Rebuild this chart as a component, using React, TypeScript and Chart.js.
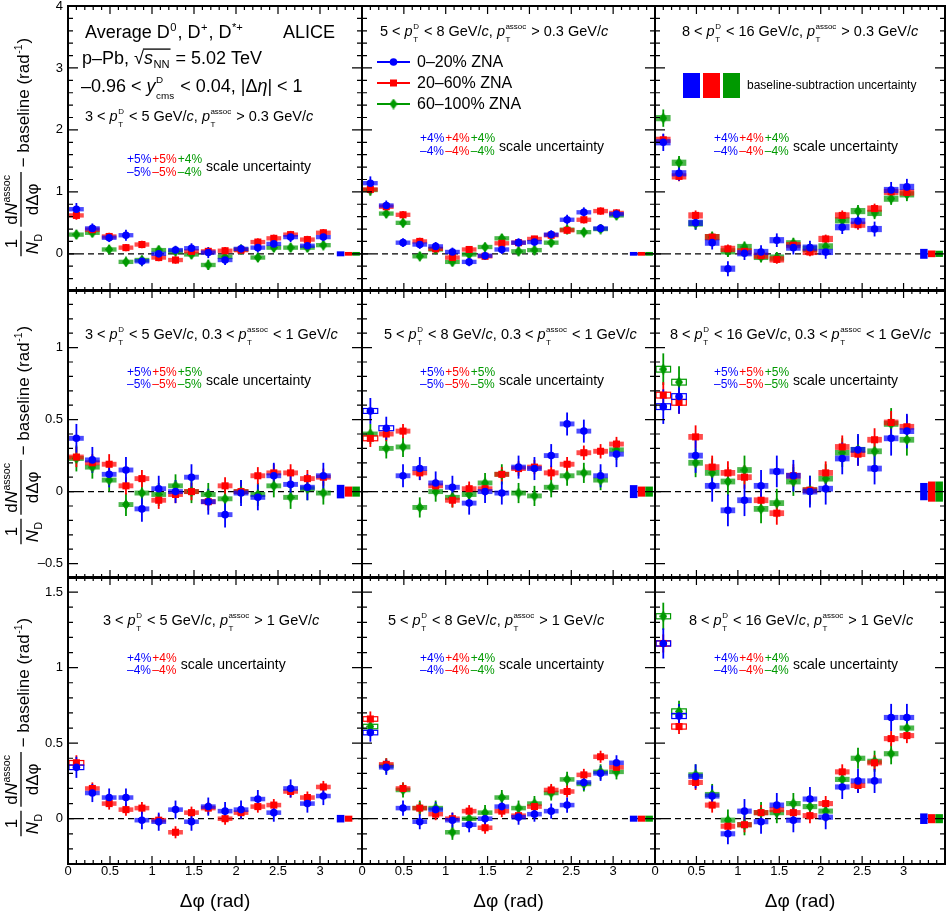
import { useEffect, useRef } from 'react'
import { Chart, registerables } from 'chart.js'

Chart.register(...registerables)

const FONT = '"Liberation Sans", Arial, Helvetica, sans-serif'
const BLUE = '#0000ff'
const RED = '#ff0000'
const GREEN = '#009900'
const colors = [BLUE, RED, GREEN]
const fills = ['rgba(0, 0, 255, 0.7)', 'rgba(255, 0, 0, 0.7)', 'rgba(0, 153, 0, 0.7)']

// Δφ bin centres (rad)
const dphi = [0.1, 0.29, 0.49, 0.69, 0.88, 1.08, 1.28, 1.47, 1.67, 1.87, 2.06, 2.26, 2.45, 2.65, 2.85, 3.04]
// position of the baseline-subtraction boxes (blue, red, green)
const baselineX = [3.245, 3.34, 3.43]
const xTicks = [0, 0.5, 1, 1.5, 2, 2.5, 3]
const yTicksRow1 = [0, 1, 2, 3, 4]
const yTicksRow2 = [-0.5, 0, 0.5, 1]
const yTicksRow3 = [0, 0.5, 1, 1.5]

const centralities = ['0–20% ZNA', '20–60% ZNA', '60–100% ZNA']
const ptD = [[3, 5], [5, 8], [8, 16]]

// ---- p_T^assoc > 0.3 GeV/c ----
const r1c1Blue = [0.72, 0.41, 0.26, 0.3, -0.12, 0.0, 0.06, 0.09, 0.02, -0.1, 0.08, 0.1, 0.16, 0.27, 0.13, 0.27]
const r1c1Red = [0.62, 0.39, 0.28, 0.1, 0.15, -0.06, -0.1, 0.04, 0.04, 0.05, 0.06, 0.19, 0.25, 0.31, 0.23, 0.34]
const r1c1Green = [0.31, 0.34, 0.07, -0.13, -0.1, 0.06, 0.04, -0.01, -0.18, -0.05, 0.07, -0.06, 0.1, 0.1, 0.1, 0.14]
const r1c1BlueErr = [0.1, 0.08, 0.07, 0.09, 0.08, 0.08, 0.07, 0.08, 0.09, 0.08, 0.07, 0.08, 0.08, 0.08, 0.08, 0.08]
const r1c1RedErr = [0.07, 0.06, 0.06, 0.06, 0.06, 0.06, 0.06, 0.05, 0.06, 0.06, 0.06, 0.06, 0.06, 0.06, 0.06, 0.06]
const r1c1GreenErr = [0.07, 0.07, 0.07, 0.07, 0.07, 0.07, 0.07, 0.07, 0.08, 0.07, 0.07, 0.07, 0.07, 0.07, 0.07, 0.07]

const r1c2Blue = [1.14, 0.78, 0.18, 0.15, 0.12, 0.03, -0.13, -0.03, 0.07, 0.18, 0.19, 0.31, 0.55, 0.67, 0.41, 0.64]
const r1c2Red = [1.04, 0.76, 0.63, 0.2, 0.08, -0.06, 0.07, -0.04, 0.17, 0.18, 0.24, 0.3, 0.38, 0.55, 0.69, 0.66]
const r1c2Green = [1.03, 0.65, 0.5, -0.04, 0.07, -0.13, -0.01, 0.11, 0.25, 0.04, 0.06, 0.18, 0.39, 0.35, 0.4, 0.62]
const r1c2BlueErr = [0.11, 0.08, 0.07, 0.07, 0.07, 0.07, 0.07, 0.07, 0.07, 0.07, 0.07, 0.07, 0.08, 0.08, 0.07, 0.07]
const r1c2RedErr = [0.08, 0.06, 0.06, 0.06, 0.05, 0.05, 0.05, 0.05, 0.05, 0.05, 0.05, 0.05, 0.06, 0.06, 0.06, 0.06]
const r1c2GreenErr = [0.09, 0.07, 0.07, 0.07, 0.07, 0.07, 0.07, 0.07, 0.07, 0.07, 0.07, 0.07, 0.07, 0.07, 0.07, 0.07]

const r1c3Blue = [1.8, 1.3, 0.5, 0.18, -0.24, 0.01, 0.03, 0.22, 0.1, 0.1, 0.03, 0.43, 0.53, 0.4, 1.03, 1.08]
const r1c3Red = [1.84, 1.25, 0.62, 0.27, 0.08, 0.04, -0.03, -0.09, 0.14, 0.03, 0.24, 0.62, 0.47, 0.73, 1.0, 0.99]
const r1c3Green = [2.19, 1.47, 0.49, 0.27, 0.04, 0.11, -0.05, -0.06, 0.17, 0.08, 0.12, 0.54, 0.69, 0.66, 0.89, 0.96]
const r1c3BlueErr = [0.14, 0.12, 0.11, 0.11, 0.12, 0.11, 0.11, 0.11, 0.11, 0.11, 0.11, 0.11, 0.12, 0.12, 0.13, 0.13]
const r1c3RedErr = [0.09, 0.08, 0.08, 0.07, 0.07, 0.07, 0.07, 0.07, 0.07, 0.07, 0.07, 0.08, 0.08, 0.08, 0.08, 0.09]
const r1c3GreenErr = [0.14, 0.11, 0.1, 0.09, 0.09, 0.09, 0.09, 0.09, 0.09, 0.09, 0.09, 0.1, 0.1, 0.1, 0.1, 0.11]

// ---- 0.3 < p_T^assoc < 1 GeV/c ----
const r2c1Blue = [0.37, 0.22, 0.12, 0.15, -0.12, 0.02, 0.0, 0.1, -0.07, -0.16, -0.01, -0.04, 0.11, 0.05, 0.03, 0.11]
const r2c1Red = [0.24, 0.2, 0.19, 0.04, 0.09, -0.06, -0.02, 0.0, -0.07, 0.04, 0.0, 0.11, 0.13, 0.13, 0.09, 0.1]
const r2c1Green = [0.23, 0.17, 0.08, -0.09, -0.01, -0.02, 0.04, 0.0, -0.02, -0.05, 0.0, -0.02, 0.04, -0.04, 0.02, -0.01]
const r2c1BlueErr = [0.1, 0.09, 0.09, 0.09, 0.09, 0.09, 0.08, 0.09, 0.09, 0.09, 0.09, 0.09, 0.09, 0.09, 0.09, 0.09]
const r2c1RedErr = [0.07, 0.06, 0.07, 0.06, 0.06, 0.06, 0.06, 0.06, 0.06, 0.06, 0.06, 0.06, 0.06, 0.06, 0.06, 0.06]
const r2c1GreenErr = [0.09, 0.08, 0.08, 0.08, 0.08, 0.08, 0.08, 0.08, 0.08, 0.08, 0.08, 0.08, 0.08, 0.08, 0.08, 0.08]

const r2c2Blue = [0.56, 0.44, 0.11, 0.16, 0.06, 0.03, -0.08, 0.0, -0.01, 0.17, 0.16, 0.25, 0.47, 0.42, 0.11, 0.26]
const r2c2Red = [0.37, 0.4, 0.42, 0.13, 0.04, -0.06, 0.02, 0.02, 0.12, 0.16, 0.17, 0.13, 0.19, 0.27, 0.28, 0.33]
const r2c2Green = [0.4, 0.3, 0.31, -0.11, 0.0, -0.04, -0.02, 0.06, 0.12, -0.01, -0.03, 0.03, 0.11, 0.13, 0.08, 0.29]
const r2c2BlueErr = [0.09, 0.08, 0.08, 0.08, 0.08, 0.08, 0.08, 0.08, 0.08, 0.08, 0.08, 0.08, 0.08, 0.08, 0.08, 0.09]
const r2c2RedErr = [0.06, 0.05, 0.05, 0.05, 0.05, 0.05, 0.05, 0.05, 0.05, 0.05, 0.05, 0.05, 0.05, 0.05, 0.05, 0.05]
const r2c2GreenErr = [0.07, 0.07, 0.07, 0.07, 0.07, 0.07, 0.07, 0.07, 0.07, 0.07, 0.07, 0.07, 0.07, 0.07, 0.07, 0.07]

const r2c3Blue = [0.59, 0.66, 0.25, 0.04, -0.13, -0.06, 0.04, 0.14, 0.11, 0.0, 0.02, 0.23, 0.29, 0.16, 0.37, 0.42]
const r2c3Red = [0.67, 0.62, 0.38, 0.17, 0.13, 0.1, -0.06, -0.15, 0.11, 0.01, 0.13, 0.31, 0.26, 0.36, 0.48, 0.45]
const r2c3Green = [0.85, 0.76, 0.2, 0.13, 0.07, 0.15, -0.12, -0.08, 0.07, 0.01, 0.09, 0.27, 0.29, 0.28, 0.47, 0.36]
const r2c3BlueErr = [0.12, 0.12, 0.12, 0.11, 0.11, 0.11, 0.11, 0.11, 0.11, 0.11, 0.11, 0.11, 0.11, 0.11, 0.12, 0.12]
const r2c3RedErr = [0.09, 0.08, 0.08, 0.08, 0.08, 0.08, 0.08, 0.08, 0.08, 0.08, 0.08, 0.08, 0.08, 0.08, 0.08, 0.08]
const r2c3GreenErr = [0.11, 0.11, 0.1, 0.1, 0.1, 0.1, 0.1, 0.1, 0.1, 0.1, 0.1, 0.1, 0.1, 0.1, 0.11, 0.11]

// ---- p_T^assoc > 1 GeV/c ----
const r3c1Blue = [0.34, 0.17, 0.14, 0.14, -0.01, -0.02, 0.06, -0.02, 0.08, 0.05, 0.06, 0.13, 0.04, 0.2, 0.1, 0.15]
const r3c1Red = [0.37, 0.2, 0.1, 0.06, 0.07, -0.01, -0.09, 0.04, 0.07, 0.0, 0.04, 0.08, 0.09, 0.18, 0.14, 0.21]
const r3c1BlueErr = [0.07, 0.06, 0.06, 0.06, 0.06, 0.06, 0.06, 0.06, 0.06, 0.06, 0.06, 0.06, 0.06, 0.06, 0.06, 0.06]
const r3c1RedErr = [0.05, 0.04, 0.04, 0.04, 0.04, 0.04, 0.04, 0.04, 0.04, 0.04, 0.04, 0.04, 0.04, 0.04, 0.04, 0.04]

const r3c2Blue = [0.57, 0.34, 0.07, -0.02, 0.06, -0.01, -0.04, 0.0, 0.08, 0.01, 0.03, 0.05, 0.09, 0.24, 0.3, 0.37]
const r3c2Red = [0.66, 0.36, 0.2, 0.07, 0.03, 0.0, 0.05, -0.06, 0.05, 0.02, 0.08, 0.19, 0.18, 0.29, 0.41, 0.34]
const r3c2Green = [0.61, 0.35, 0.19, 0.07, 0.07, -0.09, 0.0, 0.04, 0.14, 0.07, 0.1, 0.17, 0.26, 0.23, 0.31, 0.31]
const r3c2BlueErr = [0.06, 0.05, 0.05, 0.05, 0.05, 0.05, 0.05, 0.05, 0.05, 0.05, 0.05, 0.05, 0.05, 0.05, 0.05, 0.05]
const r3c2RedErr = [0.05, 0.04, 0.04, 0.04, 0.04, 0.04, 0.04, 0.04, 0.04, 0.04, 0.04, 0.04, 0.04, 0.04, 0.04, 0.04]
const r3c2GreenErr = [0.05, 0.05, 0.05, 0.05, 0.05, 0.05, 0.05, 0.05, 0.05, 0.05, 0.05, 0.05, 0.05, 0.05, 0.05, 0.05]

const r3c3Blue = [1.16, 0.68, 0.28, 0.15, -0.1, 0.05, -0.02, 0.09, -0.01, 0.13, 0.01, 0.21, 0.25, 0.25, 0.67, 0.67]
const r3c3Red = [1.16, 0.61, 0.24, 0.09, -0.05, -0.04, 0.04, 0.06, 0.04, 0.02, 0.1, 0.31, 0.22, 0.37, 0.53, 0.55]
const r3c3Green = [1.34, 0.71, 0.29, 0.16, -0.01, -0.04, 0.04, 0.04, 0.1, 0.08, 0.05, 0.26, 0.4, 0.38, 0.43, 0.6]
const r3c3BlueErr = [0.1, 0.08, 0.08, 0.07, 0.07, 0.08, 0.08, 0.08, 0.08, 0.08, 0.08, 0.08, 0.08, 0.08, 0.09, 0.09]
const r3c3RedErr = [0.06, 0.05, 0.05, 0.05, 0.05, 0.05, 0.05, 0.05, 0.05, 0.05, 0.05, 0.05, 0.05, 0.05, 0.05, 0.05]
const r3c3GreenErr = [0.09, 0.07, 0.07, 0.07, 0.07, 0.07, 0.07, 0.07, 0.07, 0.07, 0.07, 0.07, 0.07, 0.07, 0.07, 0.07]

// baseline-subtraction uncertainty (half height) per series
const r1Base = [[0.04, 0.03, 0.03], [0.03, 0.03, 0.03], [0.08, 0.054, 0.05]]
const r2Base = [[0.047, 0.035, 0.035], [0.045, 0.035, 0.035], [0.06, 0.07, 0.07]]
const r3Base = [[0.025, 0.02], [0.02, 0.02, 0.02], [0.035, 0.03, 0.03]]
// scale uncertainty (%) per series
const r1Scale = [[5, 5, 4], [4, 4, 4], [4, 4, 4]]
const r2Scale = [[5, 5, 5], [5, 5, 5], [5, 5, 5]]
const r3Scale = [[4, 4], [4, 4, 4], [4, 4, 4]]

const values = [
  [[r1c1Blue, r1c1Red, r1c1Green], [r1c2Blue, r1c2Red, r1c2Green], [r1c3Blue, r1c3Red, r1c3Green]],
  [[r2c1Blue, r2c1Red, r2c1Green], [r2c2Blue, r2c2Red, r2c2Green], [r2c3Blue, r2c3Red, r2c3Green]],
  [[r3c1Blue, r3c1Red], [r3c2Blue, r3c2Red, r3c2Green], [r3c3Blue, r3c3Red, r3c3Green]],
]
const errors = [
  [[r1c1BlueErr, r1c1RedErr, r1c1GreenErr], [r1c2BlueErr, r1c2RedErr, r1c2GreenErr], [r1c3BlueErr, r1c3RedErr, r1c3GreenErr]],
  [[r2c1BlueErr, r2c1RedErr, r2c1GreenErr], [r2c2BlueErr, r2c2RedErr, r2c2GreenErr], [r2c3BlueErr, r2c3RedErr, r2c3GreenErr]],
  [[r3c1BlueErr, r3c1RedErr], [r3c2BlueErr, r3c2RedErr, r3c2GreenErr], [r3c3BlueErr, r3c3RedErr, r3c3GreenErr]],
]
const baseUnc = [r1Base, r2Base, r3Base]
const scaleUnc = [r1Scale, r2Scale, r3Scale]

// ---- layout / style ----
const PAGE_W = 950
const PAGE_H = 914
const colEdges = [68, 362, 655, 948]
const rowEdges = [[6, 291], [290, 578], [577, 864]]
const yRanges = [[-0.6, 4.0], [-0.6, 1.4], [-0.3, 1.6]]
const yTickLists = [yTicksRow1, yTicksRow2, yTicksRow3]
const yMajor = [1, 0.5, 0.5]
const yMinor = [0.2, 0.1, 0.1]
const sysHalf = [[0.035, 0.035, 0.05], [0.017, 0.017, 0.02], [0.015, 0.015, 0.017]]
// number of leading bins drawn with open boxes, per series
const openBins = [
  [[0, 0, 0], [0, 0, 0], [0, 0, 0]],
  [[0, 0, 0], [2, 1, 0], [2, 2, 2]],
  [[1, 1], [1, 1, 1], [2, 2, 2]],
]
const labelPos = [
  [[85, 121], [380, 36], [682, 36]],
  [[85, 339], [384, 339], [670, 339]],
  [[103, 625], [388, 625], [689, 625]],
]
const pctX = [127, 420, 714]
const scaleY = [
  [[163, 176, 171], [142, 155, 151], [142, 155, 151]],
  [[376, 388, 385], [376, 388, 385], [376, 388, 385]],
  [[662, 674, 669], [662, 674, 669], [662, 674, 669]],
]
const titleCenter = [147, 435, 727]

type Run = { t?: string; it?: boolean; sup?: string; sub?: string; c?: string; over?: boolean }

const fmt = (v: number) => String(v).replace('-', '–')

function setFont(ctx: CanvasRenderingContext2D, size: number, it = false) {
  ctx.font = `${it ? 'italic ' : ''}${size}px ${FONT}`
}

function scriptWidth(ctx: CanvasRenderingContext2D, r: Run, size: number) {
  if (!r.sup && !r.sub) return 0
  const both = !!(r.sup && r.sub)
  setFont(ctx, size * (both ? 0.55 : 0.62))
  const w = Math.max(r.sup ? ctx.measureText(r.sup).width : 0, r.sub ? ctx.measureText(r.sub).width : 0)
  return w + 1.5
}

function runsWidth(ctx: CanvasRenderingContext2D, runs: Run[], size: number) {
  let w = 0
  for (const r of runs) {
    if (r.t) {
      setFont(ctx, size, r.it)
      w += ctx.measureText(r.t).width
    }
    w += scriptWidth(ctx, r, size)
  }
  return w
}

function drawRuns(ctx: CanvasRenderingContext2D, runs: Run[], x: number, y: number, size: number, color = '#000') {
  ctx.textAlign = 'left'
  ctx.textBaseline = 'alphabetic'
  for (const r of runs) {
    const x0 = x
    ctx.fillStyle = r.c ?? color
    if (r.t) {
      setFont(ctx, size, r.it)
      ctx.fillText(r.t, x, y)
      x += ctx.measureText(r.t).width
    }
    if (r.sup || r.sub) {
      const both = !!(r.sup && r.sub)
      setFont(ctx, size * (both ? 0.55 : 0.62))
      if (r.sup) ctx.fillText(r.sup, x + 0.5, y - size * (both ? 0.5 : 0.4))
      if (r.sub) ctx.fillText(r.sub, x + 0.5, y + size * (both ? 0.42 : 0.25))
      x += scriptWidth(ctx, r, size)
    }
    if (r.over) {
      ctx.strokeStyle = r.c ?? color
      ctx.lineWidth = 1.3
      ctx.beginPath()
      ctx.moveTo(x0 - 1, y - size * 0.8)
      ctx.lineTo(x, y - size * 0.8)
      ctx.stroke()
    }
  }
  return x
}

const pT = (sup: string): Run => ({ t: 'p', it: true, sup, sub: 'T' })

function panelLabel(row: number, col: number): Run[] {
  const [lo, hi] = ptD[col]
  const head: Run[] = [{ t: `${lo} < ` }, pT('D'), { t: ` < ${hi} GeV/` }, { t: 'c', it: true }]
  const tails: Run[][] = [
    [{ t: ', ' }, pT('assoc'), { t: ' > 0.3 GeV/' }, { t: 'c', it: true }],
    [{ t: ', 0.3 < ' }, pT('assoc'), { t: ' < 1 GeV/' }, { t: 'c', it: true }],
    [{ t: ', ' }, pT('assoc'), { t: ' > 1 GeV/' }, { t: 'c', it: true }],
  ]
  return [...head, ...tails[row]]
}

let diamondCache: HTMLCanvasElement | null = null
function diamond() {
  if (diamondCache) return diamondCache
  const w = 8
  const h = 11
  const c = document.createElement('canvas')
  c.width = w
  c.height = h
  const g = c.getContext('2d')!
  g.fillStyle = GREEN
  g.beginPath()
  g.moveTo(w / 2, 0)
  g.lineTo(w, h / 2)
  g.lineTo(w / 2, h)
  g.lineTo(0, h / 2)
  g.closePath()
  g.fill()
  diamondCache = c
  return c
}

function drawMarker(ctx: CanvasRenderingContext2D, k: number, x: number, y: number) {
  ctx.fillStyle = colors[k]
  if (k === 0) {
    ctx.beginPath()
    ctx.arc(x, y, 3.8, 0, Math.PI * 2)
    ctx.fill()
  } else if (k === 1) {
    ctx.fillRect(x - 3.5, y - 3.5, 7, 7)
  } else {
    const d = diamond()
    ctx.drawImage(d, x - d.width / 2, y - d.height / 2)
  }
}

function steps(min: number, max: number, step: number) {
  const out: number[] = []
  for (let k = Math.ceil(min / step - 1e-6); k <= Math.floor(max / step + 1e-6); k++) out.push(k * step)
  return out
}
const isMultiple = (v: number, m: number) => Math.abs(v / m - Math.round(v / m)) < 1e-6

function drawMarks(chart: Chart, row: number, col: number) {
  const { ctx, chartArea: a } = chart
  const xs = chart.scales.x
  const ys = chart.scales.y
  const series = values[row][col]
  const errs = errors[row][col]
  const sys = sysHalf[row][col]
  const open = openBins[row][col]
  ctx.save()
  ctx.beginPath()
  ctx.rect(a.left, a.top, a.right - a.left, a.bottom - a.top)
  ctx.clip()

  const y0 = ys.getPixelForValue(0)
  ctx.strokeStyle = '#000'
  ctx.lineWidth = 1.3
  ctx.setLineDash([6, 4])
  ctx.beginPath()
  ctx.moveTo(a.left, y0)
  ctx.lineTo(a.right, y0)
  ctx.stroke()
  ctx.setLineDash([])

  baseUnc[row][col].forEach((u, k) => {
    const x1 = xs.getPixelForValue(baselineX[k] - 0.045)
    const x2 = xs.getPixelForValue(baselineX[k] + 0.045)
    const y1 = ys.getPixelForValue(u)
    const y2 = ys.getPixelForValue(-u)
    ctx.fillStyle = colors[k]
    ctx.fillRect(x1, y1, x2 - x1, y2 - y1)
  })

  for (let k = series.length - 1; k >= 0; k--) {
    series[k].forEach((v, i) => {
      const x1 = xs.getPixelForValue(dphi[i] - 0.088)
      const x2 = xs.getPixelForValue(dphi[i] + 0.088)
      const y1 = ys.getPixelForValue(v + sys)
      const y2 = ys.getPixelForValue(v - sys)
      if (i < open[k]) {
        ctx.strokeStyle = colors[k]
        ctx.lineWidth = 1.2
        ctx.strokeRect(x1, y1, x2 - x1, y2 - y1)
      } else {
        ctx.fillStyle = fills[k]
        ctx.fillRect(x1, y1, x2 - x1, y2 - y1)
      }
      const xc = xs.getPixelForValue(dphi[i])
      ctx.strokeStyle = colors[k]
      ctx.lineWidth = 1.8
      ctx.beginPath()
      ctx.moveTo(xc, ys.getPixelForValue(v + errs[k][i]))
      ctx.lineTo(xc, ys.getPixelForValue(v - errs[k][i]))
      ctx.stroke()
    })
  }
  ctx.restore()
}

function drawFrame(chart: Chart, row: number) {
  const { ctx, chartArea: a } = chart
  const xs = chart.scales.x
  const ys = chart.scales.y
  const [ymin, ymax] = yRanges[row]
  ctx.save()
  ctx.strokeStyle = '#000'
  ctx.lineWidth = 1.2
  ctx.beginPath()
  for (const v of steps(0, 3.5, 0.1)) {
    const len = isMultiple(v, 0.5) ? 8 : 4
    const px = xs.getPixelForValue(v)
    ctx.moveTo(px, a.bottom)
    ctx.lineTo(px, a.bottom - len)
    ctx.moveTo(px, a.top)
    ctx.lineTo(px, a.top + len)
  }
  for (const v of steps(ymin, ymax, yMinor[row])) {
    const len = isMultiple(v, yMajor[row]) ? 10 : 5
    const py = ys.getPixelForValue(v)
    ctx.moveTo(a.left, py)
    ctx.lineTo(a.left + len, py)
    ctx.moveTo(a.right, py)
    ctx.lineTo(a.right - len, py)
  }
  ctx.stroke()
  ctx.lineWidth = 2
  ctx.strokeRect(a.left, a.top, a.right - a.left, a.bottom - a.top)
  ctx.restore()
}

function drawYTitle(ctx: CanvasRenderingContext2D, cx: number, cy: number) {
  const S = 17
  ctx.save()
  ctx.translate(cx, cy)
  ctx.rotate(-Math.PI / 2)
  const num1: Run[] = [{ t: '1' }]
  const den1: Run[] = [{ t: 'N', it: true, sub: 'D' }]
  const num2: Run[] = [{ t: 'd' }, { t: 'N', it: true, sup: 'assoc' }]
  const den2: Run[] = [{ t: 'dΔφ' }]
  const tail: Run[] = [{ t: ' − baseline (rad', sup: '-1' }, { t: ')' }]
  const fw1 = Math.max(runsWidth(ctx, num1, S), runsWidth(ctx, den1, S)) + 4
  const fw2 = Math.max(runsWidth(ctx, num2, S), runsWidth(ctx, den2, S)) + 4
  const tw = runsWidth(ctx, tail, S)
  const gap = 4
  let x = -(fw1 + gap + fw2 + tw) / 2
  const frac = (num: Run[], den: Run[], w: number) => {
    ctx.strokeStyle = '#000'
    ctx.lineWidth = 1.3
    ctx.beginPath()
    ctx.moveTo(x, -1)
    ctx.lineTo(x + w, -1)
    ctx.stroke()
    drawRuns(ctx, num, x + (w - runsWidth(ctx, num, S)) / 2, -5, S)
    drawRuns(ctx, den, x + (w - runsWidth(ctx, den, S)) / 2, 16, S)
  }
  frac(num1, den1, fw1)
  x += fw1 + gap
  frac(num2, den2, fw2)
  x += fw2
  drawRuns(ctx, tail, x, 7, S)
  ctx.restore()
}

function drawTexts(ctx: CanvasRenderingContext2D, row: number, col: number, left: number, top: number) {
  ctx.save()
  ctx.translate(-left, -top)
  const [lx, ly] = labelPos[row][col]
  drawRuns(ctx, panelLabel(row, col), lx, ly, 14.5)

  const [b1, b2, sb] = scaleY[row][col]
  let x = pctX[col]
  scaleUnc[row][col].forEach((u, k) => {
    setFont(ctx, 12)
    ctx.fillStyle = colors[k]
    ctx.fillText(`+${u}%`, x, b1)
    ctx.fillText(`–${u}%`, x, b2)
    x += Math.max(ctx.measureText(`+${u}%`).width, ctx.measureText(`–${u}%`).width) + 1
  })
  setFont(ctx, 14)
  ctx.fillStyle = '#000'
  ctx.fillText('scale uncertainty', x + 3, sb)

  if (row === 0 && col === 0) {
    drawRuns(ctx, [{ t: 'Average D', sup: '0' }, { t: ', D', sup: '+' }, { t: ', D', sup: '*+' }], 85, 38, 18)
    drawRuns(ctx, [{ t: 'ALICE' }], 283, 38, 18)
    drawRuns(ctx, [{ t: 'p–Pb, √' }, { t: 's', it: true, sub: 'NN', over: true }, { t: ' = 5.02 TeV' }], 82, 63.5, 18)
    drawRuns(
      ctx,
      [{ t: '–0.96 < ' }, { t: 'y', it: true, sup: 'D', sub: 'cms' }, { t: ' < 0.04, |Δ' }, { t: 'η', it: true }, { t: '| < 1' }],
      81,
      91.5,
      18,
    )
  }
  if (row === 0 && col === 1) {
    const ys = [62, 83, 104]
    centralities.forEach((name, k) => {
      ctx.strokeStyle = colors[k]
      ctx.lineWidth = 2
      ctx.beginPath()
      ctx.moveTo(377, ys[k])
      ctx.lineTo(410, ys[k])
      ctx.stroke()
      drawMarker(ctx, k, 393.5, ys[k])
      setFont(ctx, 16)
      ctx.fillStyle = '#000'
      ctx.textBaseline = 'middle'
      ctx.fillText(name, 417, ys[k] + 1)
      ctx.textBaseline = 'alphabetic'
    })
  }
  if (row === 0 && col === 2) {
    colors.forEach((c, k) => {
      ctx.fillStyle = c
      ctx.fillRect(683 + k * 20, 73, 17, 25)
    })
    setFont(ctx, 12)
    ctx.fillStyle = '#000'
    ctx.fillText('baseline-subtraction uncertainty', 747, 88.5)
  }
  if (col === 0) drawYTitle(ctx, 22, titleCenter[row])
  ctx.restore()
}

function Panel({ row, col }: { row: number; col: number }) {
  const ref = useRef<HTMLCanvasElement>(null)
  const L = colEdges[col]
  const R = colEdges[col + 1]
  const [T, B] = rowEdges[row]
  const left = col === 0 ? 0 : L - 16
  const right = Math.min(R + 16, PAGE_W)
  const top = T - 16
  const bottom = row === 2 ? PAGE_H : B + 16
  const width = right - left
  const height = bottom - top

  useEffect(() => {
    if (!ref.current) return
    const [ymin, ymax] = yRanges[row]
    const datasets = values[row][col].map((vals, k) => ({
      label: centralities[k],
      data: dphi.map((x, i) => ({ x, y: vals[i] })),
      pointStyle: k === 2 ? diamond() : k === 1 ? 'rect' : 'circle',
      pointRadius: k === 0 ? 3.8 : 5,
      backgroundColor: colors[k],
      borderColor: colors[k],
      borderWidth: 0,
    }))
    const decor = {
      id: 'decor',
      beforeDatasetsDraw(chart: Chart) {
        drawMarks(chart, row, col)
      },
      afterDraw(chart: Chart) {
        drawFrame(chart, row)
        drawTexts(chart.ctx, row, col, left, top)
      },
    }
    const chart = new Chart(ref.current, {
      type: 'scatter',
      data: { datasets },
      options: {
        responsive: false,
        animation: false,
        events: [],
        layout: {
          padding: { left: col === 0 ? 0 : L - left, right: right - R, top: T - top, bottom: row === 2 ? 0 : bottom - B },
        },
        plugins: { legend: { display: false }, tooltip: { enabled: false } },
        scales: {
          x: {
            type: 'linear',
            min: 0,
            max: 3.5,
            display: row === 2,
            afterBuildTicks: (s: any) => {
              s.ticks = xTicks.map((v) => ({ value: v }))
            },
            afterFit: row === 2 ? (s: any) => { s.height = PAGE_H - B } : undefined,
            grid: { display: false, drawTicks: false },
            border: { display: false },
            ticks: {
              autoSkip: false,
              maxRotation: 0,
              padding: 0,
              color: '#000',
              font: { family: FONT, size: 13 },
              callback: (v: any) => fmt(Number(v)),
            },
            title: {
              display: true,
              text: 'Δφ (rad)',
              color: '#000',
              font: { family: FONT, size: 19 },
              padding: { top: 0, bottom: 1 },
            },
          },
          y: {
            type: 'linear',
            min: ymin,
            max: ymax,
            display: col === 0,
            afterBuildTicks: (s: any) => {
              s.ticks = yTickLists[row].map((v) => ({ value: v }))
            },
            afterFit: col === 0 ? (s: any) => { s.width = L } : undefined,
            grid: { display: false, drawTicks: false },
            border: { display: false },
            ticks: {
              autoSkip: false,
              padding: 5,
              color: '#000',
              font: { family: FONT, size: 13 },
              callback: (v: any) => fmt(Number(v)),
            },
          },
        },
      },
      plugins: [decor],
    } as any)
    return () => chart.destroy()
  }, [row, col, left, top, L, R, T, B, right, bottom])

  return (
    <canvas
      ref={ref}
      width={width}
      height={height}
      style={{ position: 'absolute', left, top, width, height }}
    />
  )
}

export default function App() {
  const cells: JSX.Element[] = []
  for (let r = 0; r < 3; r++) for (let c = 0; c < 3; c++) cells.push(<Panel key={`${r}-${c}`} row={r} col={c} />)
  return (
    <div
      style={{
        position: 'absolute',
        left: 0,
        top: 0,
        width: PAGE_W,
        height: PAGE_H,
        overflow: 'hidden',
        background: '#fff',
      }}
    >
      {cells}
    </div>
  )
}
